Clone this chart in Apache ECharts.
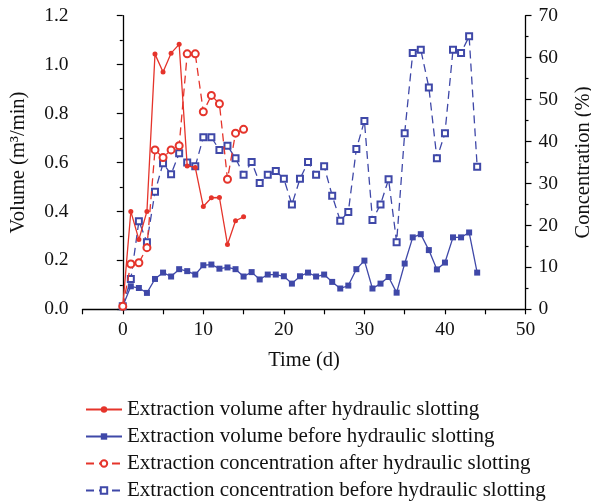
<!DOCTYPE html>
<html>
<head>
<meta charset="utf-8">
<script src="https://cdn.jsdelivr.net/npm/echarts@6/dist/echarts.min.js"></script>
<style>html,body{margin:0;padding:0;background:#fff;}#c{width:591px;height:503px;}</style>
</head>
<body>
<div id="c"></div>
<script>
const daysAfter = [0,1,2,3,4,5,6,7,8,9,10,11,12,13,14,15];
const volumeAfter = [0.01,0.40,0.285,0.40,1.043,0.97,1.047,1.083,0.586,0.58,0.42,0.456,0.457,0.265,0.362,0.378];
const concAfter = [0.7,10.8,11.1,14.7,38.0,36.2,38.0,39.0,60.9,60.9,47.1,51.0,49.0,31.0,42.0,42.9];
const daysBefore = [0,1,2,3,4,5,6,7,8,9,10,11,12,13,14,15,16,17,18,19,20,21,22,23,24,25,26,27,28,29,30,31,32,33,34,35,36,37,38,39,40,41,42,43,44];
const volumeBefore = [0.012,0.094,0.087,0.067,0.124,0.150,0.134,0.164,0.156,0.142,0.180,0.183,0.166,0.171,0.164,0.134,0.152,0.122,0.142,0.142,0.135,0.105,0.135,0.150,0.134,0.142,0.112,0.085,0.097,0.164,0.199,0.085,0.105,0.132,0.068,0.187,0.294,0.307,0.242,0.163,0.191,0.294,0.294,0.314,0.150];
const concBefore = [0.7,7.2,21.0,16.0,28.0,34.8,32.2,37.2,35.0,34.1,41.0,41.0,38.0,39.0,36.0,32.1,35.1,30.1,32.1,33.0,31.1,25.0,31.1,35.1,32.1,34.1,27.1,21.1,23.2,38.2,44.9,21.3,25.0,31.0,16.0,42.0,61.1,61.9,52.9,36.0,42.0,61.9,61.1,65.1,34.0];
const seriesNames = [
  'Extraction volume after hydraulic slotting',
  'Extraction volume before hydraulic slotting',
  'Extraction concentration after hydraulic slotting',
  'Extraction concentration before hydraulic slotting'
];

const RED = '#e5342b';
const BLUE = '#3f48a8';
const FONT = 'Liberation Serif';
const pair = (xs, ys) => xs.map((x, i) => [x, ys[i]]);

const chart = echarts.init(document.getElementById('c'), null, {renderer: 'canvas'});
const axisLine = {show: true, lineStyle: {color: '#000', width: 1.3}};
const nameTxt = {color: '#111', fontFamily: FONT, fontSize: 20.5};
const tickTxt = {color: '#111', fontFamily: FONT, fontSize: 19.5};

chart.setOption({
  animation: false,
  backgroundColor: '#fff',
  grid: {left: 82.5, right: 65.5, top: 15.7, bottom: 193.7, containLabel: false, outerBoundsMode: 'none'},
  xAxis: {
    type: 'value', min: -5, max: 50, interval: 5,
    name: 'Time (d)', nameLocation: 'middle', nameGap: 41,
    nameTextStyle: nameTxt,
    axisLine: axisLine,
    axisTick: {show: true, length: 5, lineStyle: {color: '#000', width: 1.2}},
    axisLabel: Object.assign({}, tickTxt, {margin: 11, formatter: v => (v >= 0 && v % 10 === 0) ? String(v) : ''}),
    splitLine: {show: false}
  },
  yAxis: [{
    type: 'value', min: 0, max: 1.2, interval: 0.2,
    name: 'Volume (m³/min)', nameLocation: 'middle', nameGap: 53, nameRotate: 90,
    nameTextStyle: nameTxt,
    axisLine: axisLine,
    axisTick: {show: true, length: 6, lineStyle: {color: '#000', width: 1.2}},
    minorTick: {show: true, splitNumber: 2, length: 3, lineStyle: {color: '#000', width: 1.2}},
    axisLabel: Object.assign({}, tickTxt, {margin: 14, formatter: v => v.toFixed(1)}),
    splitLine: {show: false}, minorSplitLine: {show: false}
  }, {
    type: 'value', min: 0, max: 70, interval: 10, position: 'right',
    name: 'Concentration (%)', nameLocation: 'middle', nameGap: 48, nameRotate: 90,
    nameTextStyle: nameTxt,
    axisLine: axisLine,
    axisTick: {show: true, length: 6, lineStyle: {color: '#000', width: 1.2}},
    minorTick: {show: true, splitNumber: 2, length: 3, lineStyle: {color: '#000', width: 1.2}},
    axisLabel: Object.assign({}, tickTxt, {margin: 13}),
    splitLine: {show: false}, minorSplitLine: {show: false}
  }],
  legend: {
    orient: 'vertical', left: 80, top: 394, height: 109,
    itemWidth: 36, itemHeight: 8, itemGap: 6,
    textStyle: {color: '#111', fontFamily: FONT, fontSize: 21},
    data: seriesNames
  },
  series: [{
    name: seriesNames[0], type: 'line', yAxisIndex: 0,
    data: pair(daysAfter, volumeAfter),
    symbol: 'circle', symbolSize: 5,
    lineStyle: {color: RED, width: 1.3}, itemStyle: {color: RED}, z: 4
  }, {
    name: seriesNames[1], type: 'line', yAxisIndex: 0,
    data: pair(daysBefore, volumeBefore),
    symbol: 'rect', symbolSize: 6,
    lineStyle: {color: BLUE, width: 1.3}, itemStyle: {color: BLUE}, z: 3
  }, {
    name: seriesNames[2], type: 'line', yAxisIndex: 1,
    data: pair(daysAfter, concAfter),
    symbol: 'emptyCircle', symbolSize: 7,
    lineStyle: {color: RED, width: 1.3, type: [8, 5]}, itemStyle: {color: RED, borderWidth: 1.2}, z: 4
  }, {
    name: seriesNames[3], type: 'line', yAxisIndex: 1,
    data: pair(daysBefore, concBefore),
    symbol: 'emptyRect', symbolSize: 6,
    lineStyle: {color: BLUE, width: 1.3, type: [8, 5]}, itemStyle: {color: BLUE, borderWidth: 1.2}, z: 3
  }]
});
</script>
</body>
</html>
